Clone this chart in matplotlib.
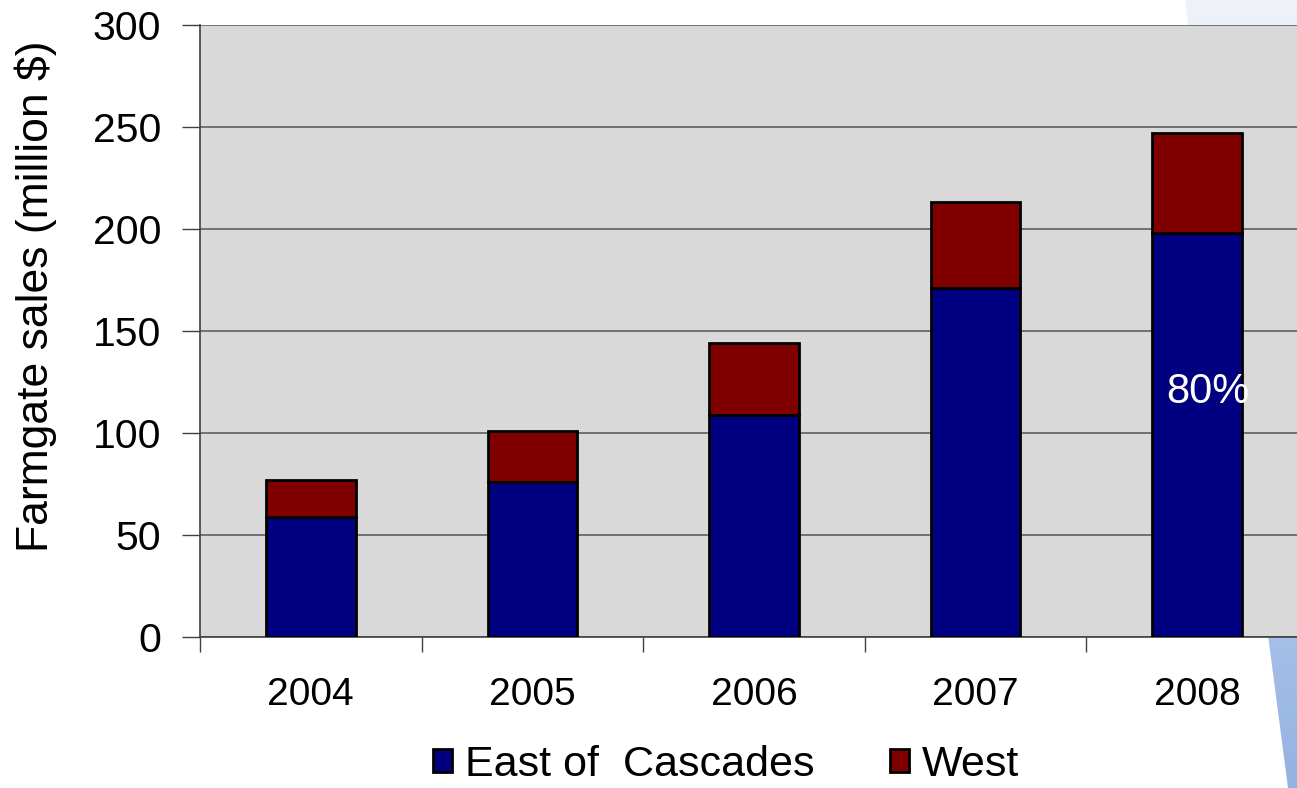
import matplotlib
matplotlib.use("Agg")
import matplotlib.pyplot as plt
import numpy as np
from matplotlib.patches import Polygon

years = ["2004", "2005", "2006", "2007", "2008"]
east = [59, 76, 109, 171, 198]
west = [18, 25, 35, 42, 49]
yticks = [0, 50, 100, 150, 200, 250, 300]

plt.rcParams['font.family'] = ['Liberation Sans', 'DejaVu Sans']

W, H = 1297, 788
fig = plt.figure(figsize=(W / 100, H / 100), dpi=100)

# decorative wedge at the right edge (gradient)
bg = fig.add_axes([0, 0, 1, 1], zorder=0)
bg.set_xlim(0, W)
bg.set_ylim(H, 0)
bg.axis('off')
grad = np.linspace(0, 1, 256).reshape(-1, 1)
c_top = np.array([0.94, 0.95, 0.98])
c_bot = np.array([0.58, 0.70, 0.89])
img = c_top + (c_bot - c_top) * grad[..., None]
im = bg.imshow(img, extent=[1150, W, H, 0], aspect='auto')
poly = Polygon([(1185, 0), (W, 0), (W, H), (1288, H)], closed=True,
               transform=bg.transData, facecolor='none', edgecolor='none')
bg.add_patch(poly)
im.set_clip_path(poly)

ax = fig.add_axes([200 / W, (H - 637) / H, 1108 / W, 612 / H], zorder=1)
ax.set_facecolor('#D9D9D9')
x = np.arange(len(years))
bw = 0.405
ax.bar(x, east, bw, color='#000080', edgecolor='black', linewidth=2,
       label='East of  Cascades', zorder=3)
ax.bar(x, west, bw, bottom=east, color='#800000', edgecolor='black',
       linewidth=2, label='West', zorder=3)

ax.set_xlim(-0.5, 4.5)
ax.set_ylim(0, 300)
ax.set_yticks(yticks)
ax.set_yticklabels([str(v) for v in yticks], fontsize=29.5)
ax.set_xticks(x)
ax.set_xticklabels(years, fontsize=28)
ax.set_xticks(np.arange(-0.5, 5.0, 1.0), minor=True)
ax.tick_params(axis='x', which='major', length=0, pad=29)
ax.tick_params(axis='x', which='minor', length=11, width=1, color='#404040')
ax.tick_params(axis='y', length=13, width=1, color='#404040', pad=15)
ax.grid(axis='y', color='#606060', linewidth=1.2, zorder=1)
ax.set_axisbelow(True)
for s in ['top', 'right']:
    ax.spines[s].set_visible(False)
for s in ['left', 'bottom']:
    ax.spines[s].set_color('#404040')
    ax.spines[s].set_linewidth(1.2)

ax.set_ylabel('Farmgate sales (million $)', fontsize=32)
ax.yaxis.set_label_coords(-143 / 1108, (637 - 296) / 612)

ax.text(4.05, 120, '80%', color='white', fontsize=30, ha='center', va='center',
        zorder=5)

leg = fig.legend(loc='center', bbox_to_anchor=(726 / W, 1 - 765 / H), ncol=2,
                 frameon=False, fontsize=31, handlelength=0.45,
                 handleheight=0.45, handletextpad=0.3, columnspacing=1.75,
                 borderpad=0.1)

fig.savefig('out.png', dpi=100)
